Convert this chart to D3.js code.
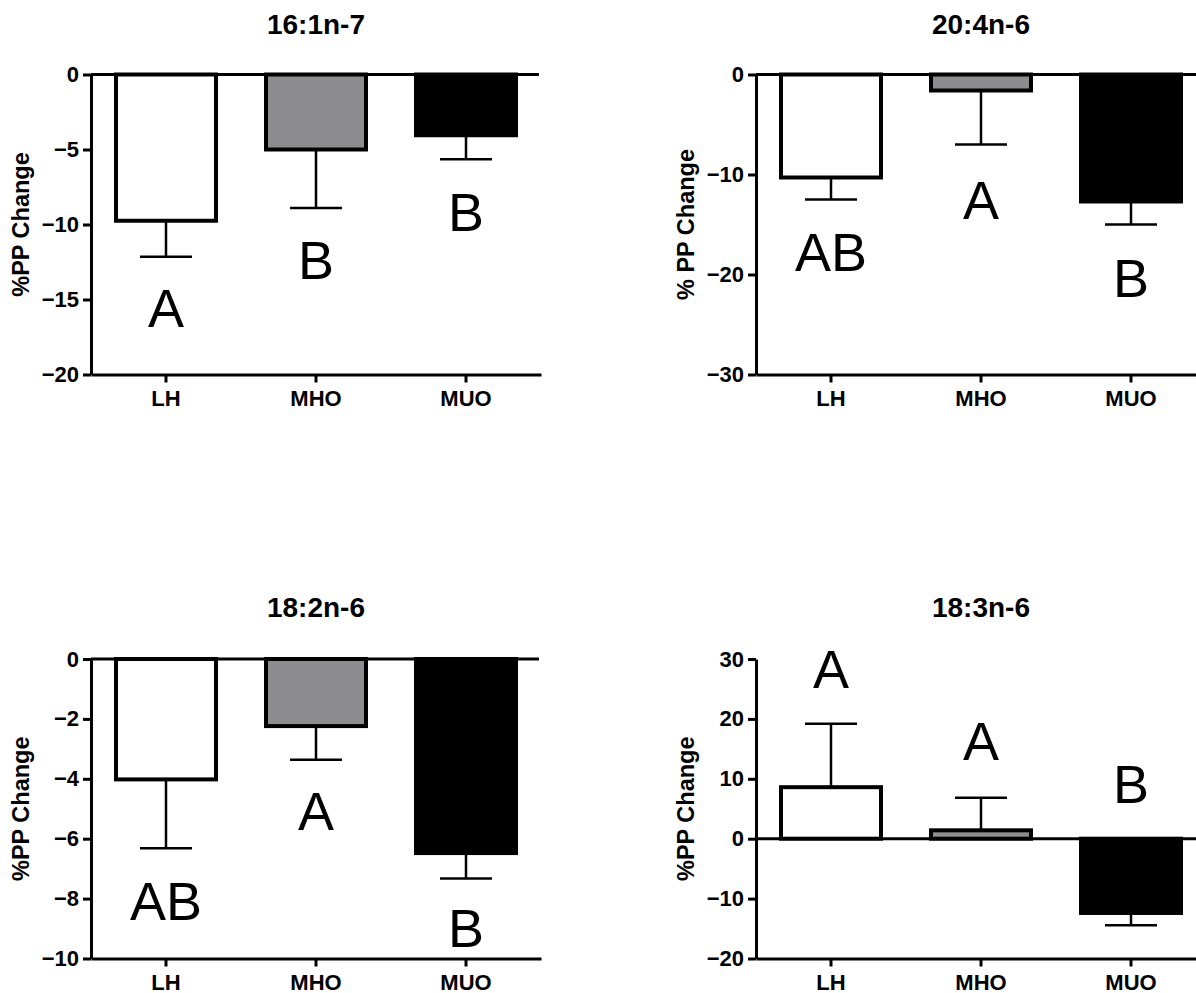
<!DOCTYPE html>
<html>
<head>
<meta charset="utf-8">
<script src="https://cdn.jsdelivr.net/npm/d3@7"></script>
<style>
  html, body { margin: 0; padding: 0; background: #fff; }
  svg { display: block; font-family: "Liberation Sans", Arial, Helvetica, sans-serif; }
</style>
</head>
<body>
<svg id="chart" width="1196" height="993"></svg>
<script>
const groups = ['LH', 'MHO', 'MUO'];

const titles = ['16:1n-7', '20:4n-6', '18:2n-6', '18:3n-6'];
const yLabels = ['%PP Change', '% PP Change', '%PP Change', '%PP Change'];

const means161 = [-9.75, -5.0, -4.05];
const sem161 = [2.4, 3.9, 1.6];
const means204 = [-10.3, -1.6, -12.7];
const sem204 = [2.2, 5.4, 2.3];
const means182 = [-4.02, -2.24, -6.48];
const sem182 = [2.3, 1.12, 0.85];
const means183 = [8.6, 1.4, -12.4];
const sem183 = [10.6, 5.45, 2.05];

const letters161 = ['A', 'B', 'B'];
const letters204 = ['AB', 'A', 'B'];
const letters182 = ['AB', 'A', 'B'];
const letters183 = ['A', 'A', 'B'];

// value at which each letter's baseline sits
const letterAt161 = [-16.8, -13.6, -10.4];
const letterAt204 = [-19.6, -14.4, -22.2];
const letterAt182 = [-8.7, -5.7, -9.6];
const letterAt183 = [25.1, 13.1, 5.9];

const domain161 = [-20, 0];
const domain204 = [-30, 0];
const domain182 = [-10, 0];
const domain183 = [-20, 30];

const ticks161 = [0, -5, -10, -15, -20];
const ticks204 = [0, -10, -20, -30];
const ticks182 = [0, -2, -4, -6, -8, -10];
const ticks183 = [30, 20, 10, 0, -10, -20];

const fills = { LH: '#ffffff', MHO: '#8d8d8f', MUO: '#000000' };

const panels = [
  { title: titles[0], yLabel: yLabels[0], means: means161, sem: sem161, letters: letters161, letterAt: letterAt161, domain: domain161, ticks: ticks161 },
  { title: titles[1], yLabel: yLabels[1], means: means204, sem: sem204, letters: letters204, letterAt: letterAt204, domain: domain204, ticks: ticks204 },
  { title: titles[2], yLabel: yLabels[2], means: means182, sem: sem182, letters: letters182, letterAt: letterAt182, domain: domain182, ticks: ticks182 },
  { title: titles[3], yLabel: yLabels[3], means: means183, sem: sem183, letters: letters183, letterAt: letterAt183, domain: domain183, ticks: ticks183 }
];

// panel placement
const layout = [
  { x0: 91, top: 74.5, bottom: 374.5, titleY: 34, labelX: 21 },
  { x0: 756, top: 74.5, bottom: 374.5, titleY: 34, labelX: 686 },
  { x0: 91, top: 659, bottom: 958.5, titleY: 617, labelX: 21 },
  { x0: 756, top: 659, bottom: 958.5, titleY: 617, labelX: 686 }
];

const svg = d3.select('#chart');

panels.forEach((p, i) => {
  const L = layout[i];
  const g = svg.append('g');

  const x = d3.scaleBand()
    .domain(groups)
    .range([L.x0, L.x0 + 450])
    .paddingInner(1 / 3)
    .paddingOuter(1 / 6);

  const y = d3.scaleLinear()
    .domain(p.domain)
    .range([L.bottom, L.top]);

  // title
  g.append('text')
    .attr('x', L.x0 + 225)
    .attr('y', L.titleY)
    .attr('text-anchor', 'middle')
    .attr('font-size', 28)
    .attr('font-weight', 'bold')
    .text(p.title);

  // y label
  g.append('text')
    .attr('transform', `translate(${L.labelX},${(L.top + L.bottom) / 2}) rotate(-90)`)
    .attr('text-anchor', 'middle')
    .attr('dy', '0.35em')
    .attr('font-size', 23.5)
    .attr('font-weight', 'bold')
    .text(p.yLabel);

  // bars
  g.selectAll('rect.bar')
    .data(groups)
    .join('rect')
    .attr('class', 'bar')
    .attr('x', d => x(d))
    .attr('width', x.bandwidth())
    .attr('y', (d, j) => Math.min(y(0), y(p.means[j])))
    .attr('height', (d, j) => Math.abs(y(0) - y(p.means[j])))
    .attr('fill', d => fills[d])
    .attr('stroke', '#000')
    .attr('stroke-width', 4);

  // error bars (one-sided, away from zero)
  groups.forEach((d, j) => {
    const m = p.means[j];
    const end = m + Math.sign(m) * p.sem[j];
    const cx = x(d) + x.bandwidth() / 2;
    g.append('line')
      .attr('x1', cx).attr('x2', cx)
      .attr('y1', y(m)).attr('y2', y(end))
      .attr('stroke', '#000').attr('stroke-width', 2.5);
    g.append('line')
      .attr('x1', cx - 26).attr('x2', cx + 26)
      .attr('y1', y(end)).attr('y2', y(end))
      .attr('stroke', '#000').attr('stroke-width', 2.5);
  });

  // zero line
  g.append('line')
    .attr('x1', L.x0).attr('x2', L.x0 + 448)
    .attr('y1', y(0)).attr('y2', y(0))
    .attr('stroke', '#000').attr('stroke-width', 3);

  // y axis
  const yAxis = g.append('g')
    .attr('transform', `translate(${L.x0},0)`)
    .call(d3.axisLeft(y).tickValues(p.ticks).tickSize(8).tickSizeOuter(0).tickPadding(4));

  // x axis
  const xAxis = g.append('g')
    .attr('transform', `translate(0,${L.bottom})`)
    .call(d3.axisBottom(x).tickSize(8).tickSizeOuter(0).tickPadding(8));

  [yAxis, xAxis].forEach(ax => {
    ax.select('.domain').attr('stroke', '#000').attr('stroke-width', 3);
    ax.selectAll('.tick line').attr('stroke', '#000').attr('stroke-width', 3);
    ax.selectAll('.tick text')
      .attr('fill', '#000')
      .attr('font-size', 22)
      .attr('font-weight', 'bold')
      .attr('font-family', '"Liberation Sans", Arial, Helvetica, sans-serif');
  });

  // significance letters
  g.selectAll('text.letter')
    .data(groups)
    .join('text')
    .attr('class', 'letter')
    .attr('x', d => x(d) + x.bandwidth() / 2)
    .attr('y', (d, j) => y(p.letterAt[j]))
    .attr('text-anchor', 'middle')
    .attr('font-size', 54)
    .text((d, j) => p.letters[j]);
});
</script>
</body>
</html>
